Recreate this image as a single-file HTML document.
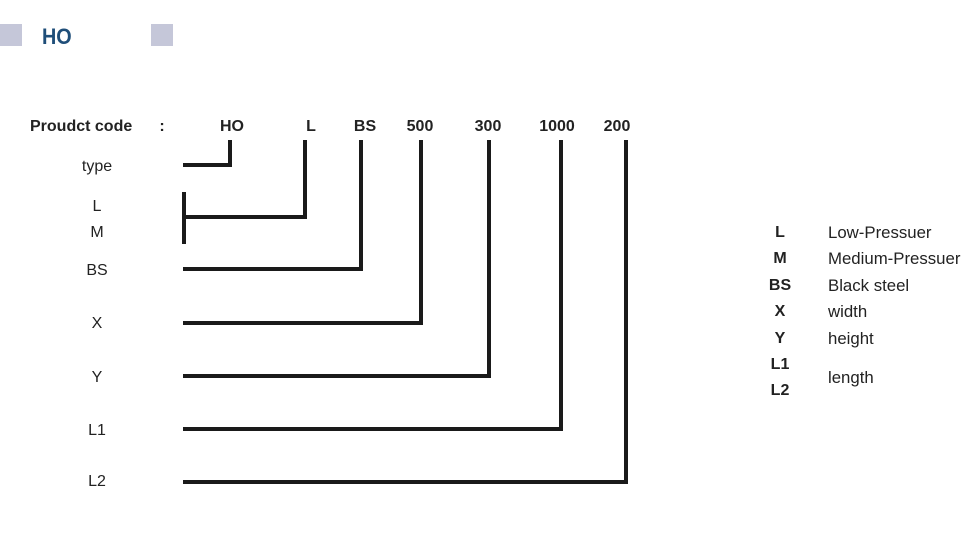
<!DOCTYPE html>
<html><head><meta charset="utf-8"><style>
body{margin:0;width:974px;height:548px;background:#fff;position:relative;overflow:hidden;font-family:"Liberation Sans",sans-serif;color:#222}
.a{position:absolute;white-space:nowrap;transform:translate(-50%,-50%);font-size:16px;margin-top:1px}
.l{position:absolute;white-space:nowrap;transform:translateY(-50%);font-size:16px;margin-top:1px}
.b{font-weight:bold}
.sq{position:absolute;background:#c5c7d9;width:22px;height:22px;top:24px}
</style></head><body>
<div class="sq" style="left:0"></div>
<div class="sq" style="left:151px"></div>
<div class="l b" style="left:42px;top:36px;font-size:22px;color:#1f4e79;transform:translateY(-50%) scaleX(0.9);transform-origin:left">HO</div>
<div class="l b" style="left:30px;top:126px">Proudct code</div>
<div class="a b" style="left:162px;top:126px">:</div>
<div class="a b" style="left:232px;top:126px">HO</div>
<div class="a b" style="left:311px;top:126px">L</div>
<div class="a b" style="left:365px;top:126px">BS</div>
<div class="a b" style="left:420px;top:126px">500</div>
<div class="a b" style="left:488px;top:126px">300</div>
<div class="a b" style="left:557px;top:126px">1000</div>
<div class="a b" style="left:617px;top:126px">200</div>
<div class="a" style="left:97px;top:166px">type</div>
<div class="a" style="left:97px;top:206px">L</div>
<div class="a" style="left:97px;top:232px">M</div>
<div class="a" style="left:97px;top:270px">BS</div>
<div class="a" style="left:97px;top:323px">X</div>
<div class="a" style="left:97px;top:377px">Y</div>
<div class="a" style="left:97px;top:430px">L1</div>
<div class="a" style="left:97px;top:481px">L2</div>
<svg style="position:absolute;left:0;top:0" width="974" height="548">
<g fill="none" stroke="#1a1a1a" stroke-width="4">
<path d="M183 165H230V140"/>
<path d="M186 217H305V140"/>
<path d="M184 192V244"/>
<path d="M183 269H361V140"/>
<path d="M183 323H421V140"/>
<path d="M183 376H489V140"/>
<path d="M183 429H561V140"/>
<path d="M183 482H626V140"/>
</g></svg>
<div class="a b" style="left:780px;top:232px">L</div>
<div class="a b" style="left:780px;top:258px">M</div>
<div class="a b" style="left:780px;top:285px">BS</div>
<div class="a b" style="left:780px;top:311px">X</div>
<div class="a b" style="left:780px;top:338px">Y</div>
<div class="a b" style="left:780px;top:364px">L1</div>
<div class="a b" style="left:780px;top:390px">L2</div>
<div class="l" style="left:828px;top:232px;font-size:16.8px">Low-Pressuer</div>
<div class="l" style="left:828px;top:258px;font-size:16.8px">Medium-Pressuer</div>
<div class="l" style="left:828px;top:285px;font-size:16.8px">Black steel</div>
<div class="l" style="left:828px;top:311px;font-size:16.8px">width</div>
<div class="l" style="left:828px;top:338px;font-size:16.8px">height</div>
<div class="l" style="left:828px;top:377px;font-size:16.8px">length</div>
</body></html>
